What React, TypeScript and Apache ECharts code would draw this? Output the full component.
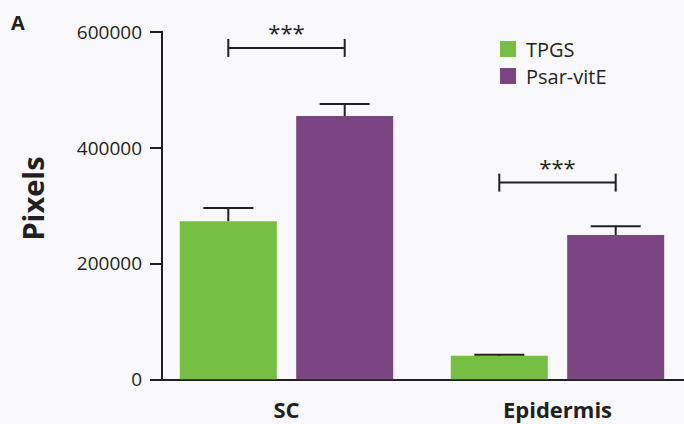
import React, { useEffect, useRef } from "react";
import * as echarts from "echarts";

const categories = ["SC", "Epidermis"];
const seriesNames = ["TPGS", "Psar-vitE"];
const tpgsValues = [273000, 40500];
const psarValues = [454500, 249000];
const tpgsErrTop = [295700, 42500];
const psarErrTop = [475000, 264000];
const sigLevels = [572000, 339500];
const sigLabels = ["***", "***"];
const yTicks = [0, 200000, 400000, 600000];

const GREEN = "#75bf43";
const PURPLE = "#7a4582";
const INK = "#231f20";
const FONT = "'Open Sans', 'Noto Sans', sans-serif";
const BAR_W = 97;
const BAR_GAP_PCT = 0.2;
const HALF_OFF = (BAR_W + BAR_W * BAR_GAP_PCT) / 2;

export default function App() {
  const ref = useRef<HTMLDivElement>(null);
  useEffect(() => {
    if (!ref.current) return;
    const chart = echarts.init(ref.current, null, { renderer: "svg" });
    const errData = (vals: number[], tops: number[]) =>
      vals.map((v, i) => [i, v, tops[i]]);
    const errSeries = (name: string, vals: number[], tops: number[], dir: number) => ({
      type: "custom",
      name: name + "-err",
      z: 5,
      silent: true,
      data: errData(vals, tops),
      renderItem: (params: any, api: any) => {
        const base = api.coord([api.value(0), api.value(1)]);
        const top = api.coord([api.value(0), api.value(2)]);
        const cx = base[0] + dir * HALF_OFF;
        return {
          type: "group",
          children: [
            { type: "line", shape: { x1: cx, y1: base[1], x2: cx, y2: top[1] }, style: { stroke: INK, lineWidth: 2 } },
            { type: "line", shape: { x1: cx - 25, y1: top[1], x2: cx + 25, y2: top[1] }, style: { stroke: INK, lineWidth: 2 } },
          ],
        };
      },
    });
    chart.setOption({
      animation: false,
      backgroundColor: "#f9f9fb",
      textStyle: { fontFamily: FONT },
      grid: { left: 151, top: 31.7, width: 542, height: 347.6, outerBoundsMode: "none", containLabel: false },
      legend: {
        orient: "vertical",
        left: 500,
        top: 39,
        padding: 0,
        itemWidth: 16,
        itemHeight: 16,
        itemGap: 7,
        icon: "rect",
        data: seriesNames,
        textStyle: { fontSize: 20, color: INK, fontFamily: FONT, padding: [0, 0, 0, 5] },
      },
      xAxis: {
        type: "category",
        data: categories,
        axisLine: { show: true, lineStyle: { color: INK, width: 2 } },
        axisTick: { show: false },
        axisLabel: { fontSize: 22, fontWeight: "bold", color: INK, margin: 19, fontFamily: FONT },
      },
      yAxis: {
        type: "value",
        min: yTicks[0],
        max: yTicks[yTicks.length - 1],
        interval: yTicks[1] - yTicks[0],
        offset: -11,
        axisLine: { show: true, lineStyle: { color: INK, width: 2 } },
        axisTick: { show: true, length: 12, lineStyle: { color: INK, width: 2 } },
        axisLabel: { fontSize: 19, color: INK, margin: 20, fontFamily: FONT, formatter: (v: number) => String(v) },
        splitLine: { show: false },
      },
      graphic: [
        { type: "text", left: 11, top: 12, style: { text: "A", font: `bold 20px ${FONT}`, fill: INK } },
        {
          type: "text",
          x: 32,
          y: 198.5,
          rotation: Math.PI / 2,
          style: { text: "Pixels", font: `bold 29px ${FONT}`, fill: INK, align: "center", verticalAlign: "middle" },
        },
      ],
      series: [
        { type: "bar", name: seriesNames[0], data: tpgsValues, barWidth: BAR_W, barGap: "20%", itemStyle: { color: GREEN } },
        { type: "bar", name: seriesNames[1], data: psarValues, barWidth: BAR_W, barGap: "20%", itemStyle: { color: PURPLE } },
        errSeries(seriesNames[0], tpgsValues, tpgsErrTop, -1),
        errSeries(seriesNames[1], psarValues, psarErrTop, 1),
        {
          type: "custom",
          name: "sig",
          z: 6,
          silent: true,
          data: sigLevels.map((v, i) => [i, v]),
          renderItem: (params: any, api: any) => {
            const p = api.coord([api.value(0), api.value(1)]);
            const x1 = p[0] - HALF_OFF;
            const x2 = p[0] + HALF_OFF;
            const y = p[1];
            return {
              type: "group",
              children: [
                { type: "line", shape: { x1, y1: y, x2, y2: y }, style: { stroke: INK, lineWidth: 2 } },
                { type: "line", shape: { x1, y1: y - 9, x2: x1, y2: y + 9 }, style: { stroke: INK, lineWidth: 2 } },
                { type: "line", shape: { x1: x2, y1: y - 9, x2, y2: y + 9 }, style: { stroke: INK, lineWidth: 2 } },
                {
                  type: "text",
                  x: p[0],
                  y: y - 5,
                  style: { text: sigLabels[params.dataIndex], font: `22px ${FONT}`, fill: INK, align: "center", verticalAlign: "bottom" },
                },
              ],
            };
          },
        },
      ],
    });
    return () => chart.dispose();
  }, []);
  return <div ref={ref} style={{ position: "fixed", left: 0, top: 0, width: 684, height: 424 }} />;
}
